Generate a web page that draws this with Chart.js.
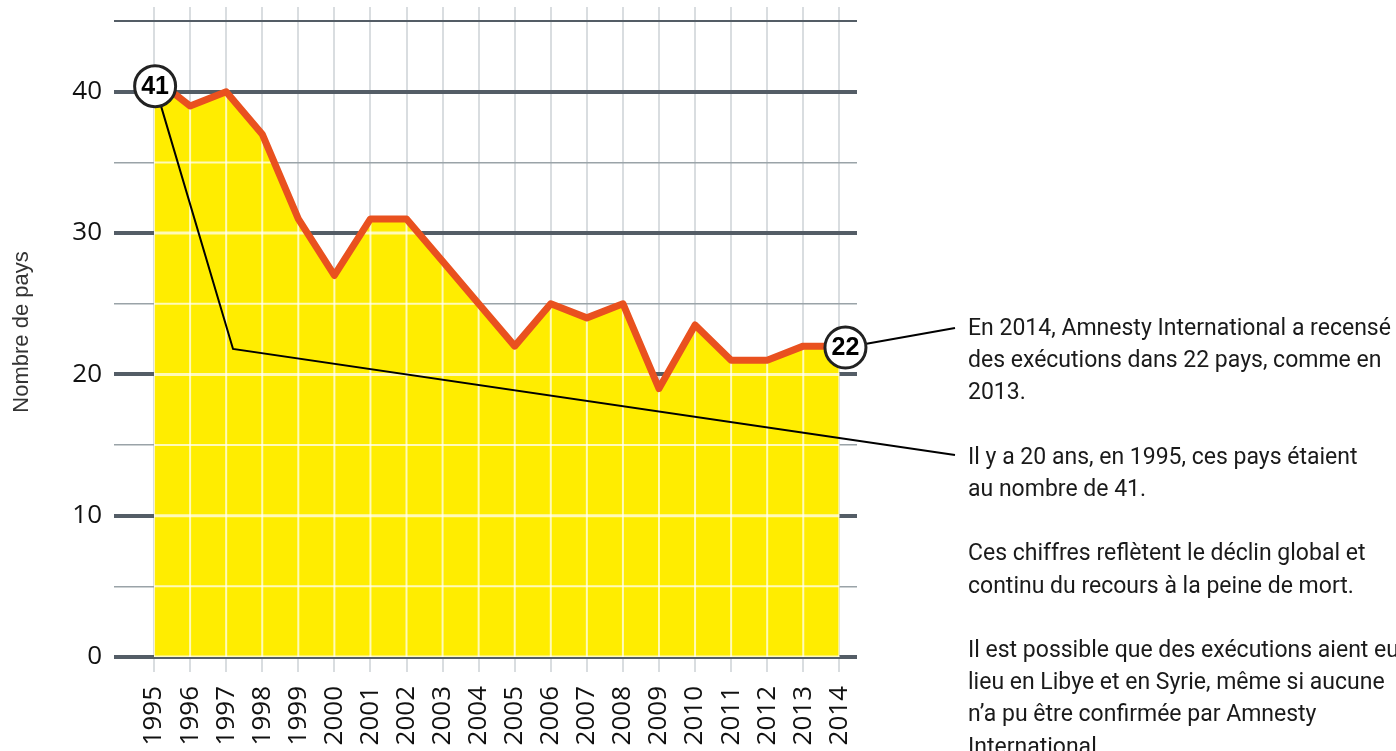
<!DOCTYPE html>
<html>
  <head>
    <meta charset="utf-8">
    <title>Nombre de pays</title>
    <script src="https://cdn.jsdelivr.net/npm/chart.js@4.4.1/dist/chart.umd.min.js"></script>
    <style>
      body { margin: 0; background: #fff; }
      #wrap { position: relative; width: 1396px; height: 751px; overflow: hidden; }
      #notes {
        position: absolute; left: 968px; top: 312px;
        font-family: Roboto, "Liberation Sans", sans-serif;
        font-size: 23px; line-height: 32.2px; color: #1a1a1a; white-space: nowrap;
      }
    </style>
  </head>
  <body>
    <div id="wrap">
      <canvas id="chart" width="1396" height="751"></canvas>
      <div id="notes">
        En 2014, Amnesty International a recensé<br>
        des exécutions dans 22 pays, comme en<br>
        2013.<br>
        <br>
        Il y a 20 ans, en 1995, ces pays étaient<br>
        au nombre de 41.<br>
        <br>
        Ces chiffres reflètent le déclin global et<br>
        continu du recours à la peine de mort.<br>
        <br>
        Il est possible que des exécutions aient eu<br>
        lieu en Libye et en Syrie, même si aucune<br>
        n’a pu être confirmée par Amnesty<br>
        International.
      </div>
    </div>

    <script type="text/javascript">
      var years = [1995, 1996, 1997, 1998, 1999, 2000, 2001, 2002, 2003, 2004,
                   2005, 2006, 2007, 2008, 2009, 2010, 2011, 2012, 2013, 2014];
      var countries = [41, 39, 40, 37, 31, 27, 31, 31, 28, 25,
                       22, 25, 24, 25, 19, 23.5, 21, 21, 22, 22];
      var yTicks = [0, 5, 10, 15, 20, 25, 30, 35, 40, 45];

      var YELLOW = "#ffed00";
      var ORANGE = "#e9511f";
      var DARK = "#545d66";
      var PALE = "rgba(255,255,255,0.72)";

      var points = years.map((y, i) => ({x: y, y: countries[i]}));

      // pale grid lines drawn only inside the yellow area
      var paleGrid = {
        id: "paleGrid",
        afterDatasetDraw(chart, args) {
          if (args.index !== 0) return;
          var ctx = chart.ctx, xs = chart.scales.x, ys = chart.scales.y;
          var pts = args.meta.data;
          var base = ys.getPixelForValue(0);
          ctx.save();
          ctx.beginPath();
          ctx.moveTo(pts[0].x, base);
          pts.forEach(p => ctx.lineTo(p.x, p.y));
          ctx.lineTo(pts[pts.length - 1].x, base);
          ctx.closePath();
          ctx.clip();
          ctx.strokeStyle = PALE;
          years.forEach(v => {
            var px = xs.getPixelForValue(v);
            ctx.lineWidth = 2;
            ctx.beginPath(); ctx.moveTo(px, chart.chartArea.top); ctx.lineTo(px, base + 4); ctx.stroke();
          });
          yTicks.forEach(v => {
            var py = ys.getPixelForValue(v);
            ctx.lineWidth = v % 10 === 0 ? 3 : 2;
            ctx.beginPath(); ctx.moveTo(chart.chartArea.left, py); ctx.lineTo(chart.chartArea.right, py); ctx.stroke();
          });
          ctx.restore();
        }
      };

      // connector lines and numbered circles
      var callouts = {
        id: "callouts",
        afterDatasetsDraw(chart) {
          var ctx = chart.ctx, xs = chart.scales.x, ys = chart.scales.y;
          var c1 = {x: xs.getPixelForValue(1995.03), y: ys.getPixelForValue(40.4)};
          var elbow = {x: xs.getPixelForValue(1997.19), y: ys.getPixelForValue(21.8)};
          var c2 = {x: xs.getPixelForValue(2014.17), y: ys.getPixelForValue(21.9)};
          ctx.save();
          ctx.strokeStyle = "#000";
          ctx.lineWidth = 2;
          ctx.beginPath();
          ctx.moveTo(c1.x, c1.y); ctx.lineTo(elbow.x, elbow.y); ctx.lineTo(955, 455);
          ctx.stroke();
          ctx.beginPath();
          ctx.moveTo(c2.x, c2.y); ctx.lineTo(955, 328);
          ctx.stroke();
          [[c1, String(countries[0])], [c2, String(countries[countries.length - 1])]].forEach(function(c) {
            ctx.beginPath();
            ctx.arc(c[0].x, c[0].y, 20.5, 0, Math.PI * 2);
            ctx.fillStyle = "#fff";
            ctx.fill();
            ctx.lineWidth = 3;
            ctx.strokeStyle = "#222";
            ctx.stroke();
            ctx.fillStyle = "#000";
            ctx.font = "bold 25px 'Liberation Sans', sans-serif";
            ctx.textAlign = "center";
            ctx.textBaseline = "middle";
            ctx.fillText(c[1], c[0].x, c[0].y + 1);
          });
          ctx.restore();
        }
      };

      new Chart(document.getElementById("chart"), {
        type: "line",
        data: {
          datasets: [
            {data: points, order: 2, fill: "origin", backgroundColor: YELLOW, borderWidth: 0, pointRadius: 0, tension: 0},
            {data: points, order: 1, fill: false, borderColor: ORANGE, borderWidth: 7, borderJoinStyle: "round",
             pointRadius: 0, tension: 0}
          ]
        },
        options: {
          responsive: false,
          animation: false,
          layout: {padding: {top: 7, right: 539, left: 0, bottom: 0}},
          plugins: {legend: {display: false}, tooltip: {enabled: false}},
          scales: {
            x: {
              type: "linear",
              min: 1993.89,
              max: 2014.49,
              afterBuildTicks: s => { s.ticks = years.map(v => ({value: v})); },
              afterFit: s => { s.height = 94; s.paddingLeft = 0; s.paddingRight = 0; },
              border: {display: false},
              grid: {color: "#d9dde0", lineWidth: 2, drawTicks: true, tickLength: 15, tickColor: "#d9dde0"},
              ticks: {
                autoSkip: false, maxRotation: 90, minRotation: 90, padding: 14,
                color: "#111", font: {family: "'Open Sans', sans-serif", size: 26},
                callback: v => String(v)
              }
            },
            y: {
              min: 0,
              max: 46,
              afterBuildTicks: s => { s.ticks = yTicks.map(v => ({value: v})); },
              afterFit: s => { s.width = 114; s.paddingTop = 0; s.paddingBottom = 0; },
              border: {display: false},
              grid: {
                drawTicks: false,
                color: c => (c.tick.value % 10 === 0 || c.tick.value === 45) ? DARK : "#9aa3a8",
                lineWidth: c => c.tick.value % 10 === 0 ? 4 : (c.tick.value === 45 ? 2 : 1.5)
              },
              ticks: {
                padding: 12, color: "#111",
                font: {family: "'Open Sans', sans-serif", size: 26},
                callback: v => (v % 10 === 0 ? String(v) : "")
              },
              title: {
                display: true, text: "Nombre de pays", color: "#333",
                font: {family: "'Liberation Sans', sans-serif", size: 22},
                padding: {top: 9, bottom: 0}
              }
            }
          }
        },
        plugins: [paleGrid, callouts]
      });
    </script>
  </body>
</html>
